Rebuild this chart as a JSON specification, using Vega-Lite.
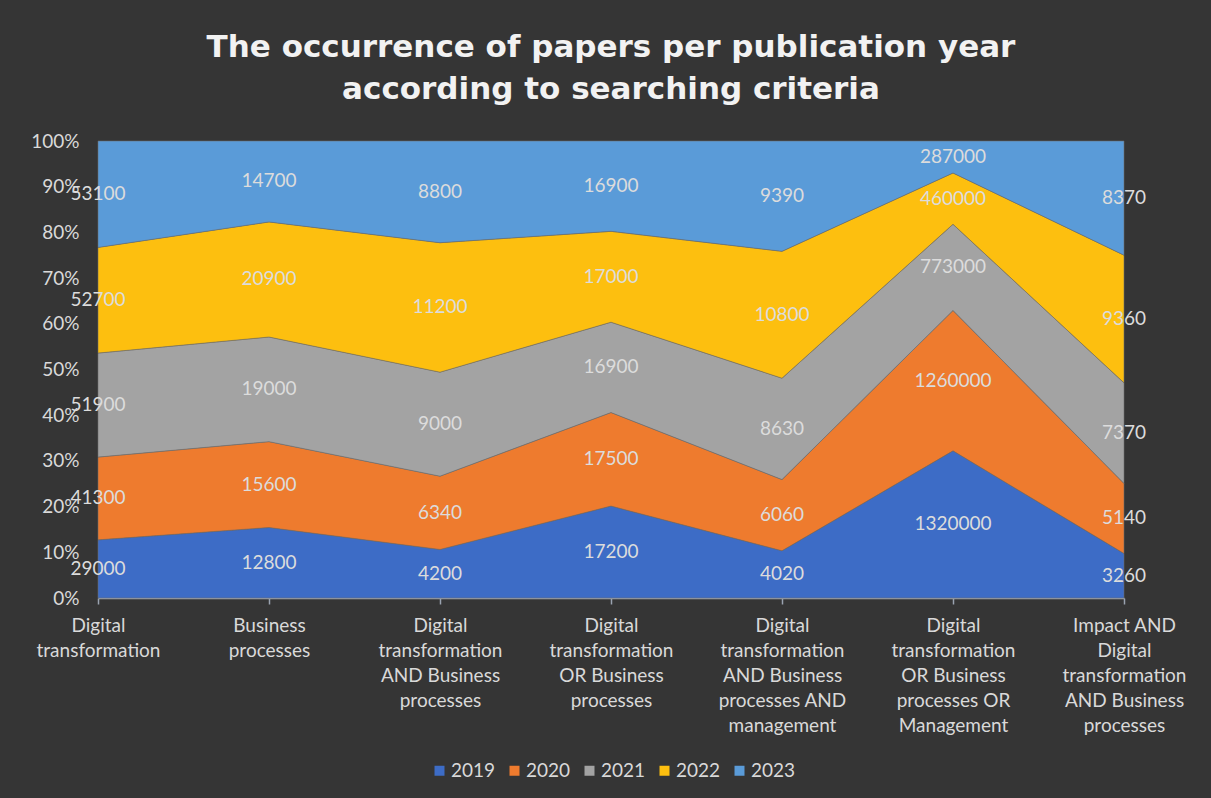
{
  "$schema": "https://vega.github.io/schema/vega-lite/v6.json",
  "width": 1026,
  "height": 457,
  "autosize": {"type": "none"},
  "padding": {"left": 98, "top": 141, "right": 87, "bottom": 200},
  "background": "#353535",
  "config": {"view": {"stroke": null}, "font": "Lato"},
  "title": {
    "text": ["The occurrence of papers per publication year", "according to searching criteria"],
    "font": "DejaVu Sans",
    "fontSize": 31,
    "fontWeight": "bold",
    "color": "#f2f2f2",
    "lineHeight": 42,
    "offset": 26,
    "anchor": "middle"
  },
  "data": {
    "values": [
      {"criteria": "Digital transformation", "year": "2019", "papers": 29000},
      {"criteria": "Digital transformation", "year": "2020", "papers": 41300},
      {"criteria": "Digital transformation", "year": "2021", "papers": 51900},
      {"criteria": "Digital transformation", "year": "2022", "papers": 52700},
      {"criteria": "Digital transformation", "year": "2023", "papers": 53100},
      {"criteria": "Business processes", "year": "2019", "papers": 12800},
      {"criteria": "Business processes", "year": "2020", "papers": 15600},
      {"criteria": "Business processes", "year": "2021", "papers": 19000},
      {"criteria": "Business processes", "year": "2022", "papers": 20900},
      {"criteria": "Business processes", "year": "2023", "papers": 14700},
      {"criteria": "Digital transformation AND Business processes", "year": "2019", "papers": 4200},
      {"criteria": "Digital transformation AND Business processes", "year": "2020", "papers": 6340},
      {"criteria": "Digital transformation AND Business processes", "year": "2021", "papers": 9000},
      {"criteria": "Digital transformation AND Business processes", "year": "2022", "papers": 11200},
      {"criteria": "Digital transformation AND Business processes", "year": "2023", "papers": 8800},
      {"criteria": "Digital transformation OR Business processes", "year": "2019", "papers": 17200},
      {"criteria": "Digital transformation OR Business processes", "year": "2020", "papers": 17500},
      {"criteria": "Digital transformation OR Business processes", "year": "2021", "papers": 16900},
      {"criteria": "Digital transformation OR Business processes", "year": "2022", "papers": 17000},
      {"criteria": "Digital transformation OR Business processes", "year": "2023", "papers": 16900},
      {"criteria": "Digital transformation AND Business processes AND management", "year": "2019", "papers": 4020},
      {"criteria": "Digital transformation AND Business processes AND management", "year": "2020", "papers": 6060},
      {"criteria": "Digital transformation AND Business processes AND management", "year": "2021", "papers": 8630},
      {"criteria": "Digital transformation AND Business processes AND management", "year": "2022", "papers": 10800},
      {"criteria": "Digital transformation AND Business processes AND management", "year": "2023", "papers": 9390},
      {"criteria": "Digital transformation OR Business processes OR Management", "year": "2019", "papers": 1320000},
      {"criteria": "Digital transformation OR Business processes OR Management", "year": "2020", "papers": 1260000},
      {"criteria": "Digital transformation OR Business processes OR Management", "year": "2021", "papers": 773000},
      {"criteria": "Digital transformation OR Business processes OR Management", "year": "2022", "papers": 460000},
      {"criteria": "Digital transformation OR Business processes OR Management", "year": "2023", "papers": 287000},
      {"criteria": "Impact AND Digital transformation AND Business processes", "year": "2019", "papers": 3260},
      {"criteria": "Impact AND Digital transformation AND Business processes", "year": "2020", "papers": 5140},
      {"criteria": "Impact AND Digital transformation AND Business processes", "year": "2021", "papers": 7370},
      {"criteria": "Impact AND Digital transformation AND Business processes", "year": "2022", "papers": 9360},
      {"criteria": "Impact AND Digital transformation AND Business processes", "year": "2023", "papers": 8370}
    ]
  },
  "transform": [
    {"stack": "papers", "groupby": ["criteria"], "sort": [{"field": "year", "order": "ascending"}], "offset": "normalize", "as": ["y0", "y1"]},
    {"calculate": "(datum.y0 + datum.y1) / 2", "as": "ymid"}
  ],
  "encoding": {
    "x": {
      "field": "criteria",
      "type": "nominal",
      "sort": [
        "Digital transformation",
        "Business processes",
        "Digital transformation AND Business processes",
        "Digital transformation OR Business processes",
        "Digital transformation AND Business processes AND management",
        "Digital transformation OR Business processes OR Management",
        "Impact AND Digital transformation AND Business processes"
      ],
      "scale": {"type": "point", "padding": 0},
      "axis": {
        "title": null,
        "labelAngle": 0,
        "labelAlign": "center",
        "labelBaseline": "top",
        "labelFont": "Lato",
        "labelFontSize": 19,
        "labelColor": "#d9d9d9",
        "labelLineHeight": 25,
        "labelPadding": 12,
        "labelLimit": 0,
        "domainColor": "#9aa3b0",
        "domainWidth": 1.5,
        "tickColor": "#9aa3b0",
        "tickSize": 6,
        "tickWidth": 1.5,
        "grid": false,
        "labelExpr": "datum.value == 'Digital transformation' ? ['Digital','transformation'] : datum.value == 'Business processes' ? ['Business','processes'] : datum.value == 'Digital transformation AND Business processes' ? ['Digital','transformation','AND Business','processes'] : datum.value == 'Digital transformation OR Business processes' ? ['Digital','transformation','OR Business','processes'] : datum.value == 'Digital transformation AND Business processes AND management' ? ['Digital','transformation','AND Business','processes AND','management'] : datum.value == 'Digital transformation OR Business processes OR Management' ? ['Digital','transformation','OR Business','processes OR','Management'] : ['Impact AND','Digital','transformation','AND Business','processes']"
      }
    }
  },
  "layer": [
    {
      "mark": {"type": "area", "stroke": "#6b6b6b", "strokeWidth": 0.8, "strokeOpacity": 0.7},
      "encoding": {
        "y": {
          "field": "y1",
          "type": "quantitative",
          "scale": {"domain": [0, 1], "nice": false},
          "axis": {
            "title": null,
            "values": [0, 0.1, 0.2, 0.3, 0.4, 0.5, 0.6, 0.7, 0.8, 0.9, 1],
            "format": ".0%",
            "labelFont": "Lato",
            "labelFontSize": 19,
            "labelColor": "#d9d9d9",
            "labelPadding": 19,
            "domain": false,
            "ticks": false,
            "grid": false
          }
        },
        "y2": {"field": "y0"},
        "color": {
          "field": "year",
          "type": "nominal",
          "scale": {"domain": ["2019", "2020", "2021", "2022", "2023"], "range": ["#3d6cc6", "#ee7b2e", "#a3a3a3", "#fdbf0f", "#5a9bd8"]},
          "legend": {
            "title": null,
            "orient": "none",
            "direction": "horizontal",
            "legendX": 332,
            "legendY": 620,
            "symbolType": "square",
            "symbolSize": 100,
            "symbolStrokeWidth": 0,
            "labelFont": "Lato",
            "labelFontSize": 19,
            "labelColor": "#d9d9d9",
            "columnPadding": 9,
            "labelOffset": 2
          }
        }
      }
    },
    {
      "mark": {"type": "text", "font": "Lato", "fontSize": 19, "color": "#dcdcdc", "align": "center", "baseline": "middle"},
      "encoding": {
        "y": {"field": "ymid", "type": "quantitative"},
        "text": {"field": "papers", "type": "quantitative", "format": "d"}
      }
    }
  ]
}
